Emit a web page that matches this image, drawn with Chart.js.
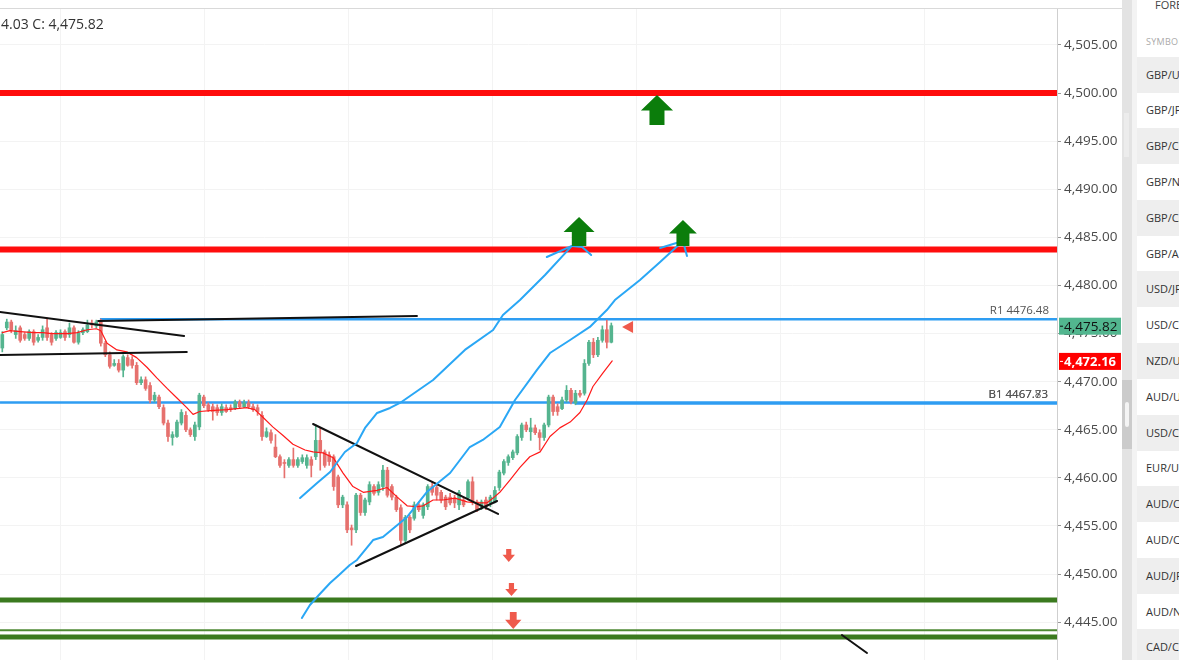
<!DOCTYPE html>
<html><head><meta charset="utf-8">
<script src="https://cdn.jsdelivr.net/npm/chart.js@4.4.0/dist/chart.umd.min.js"></script>
<style>
html,body{margin:0;padding:0;background:#fff;width:1179px;height:660px;overflow:hidden;font-family:"Open Sans",sans-serif;}
#topline{position:absolute;left:0;top:8px;width:1122px;height:1px;background:#d9d9d9;}
#wrap{position:absolute;left:0;top:9px;width:1122px;height:651px;}
#ohlc{position:absolute;left:1px;top:14px;font-size:14px;color:#333;white-space:nowrap;}
#track{position:absolute;left:1122px;top:0;width:10px;height:660px;background:#e3e3e3;}
#thumb{position:absolute;left:1122px;top:380px;width:10px;height:69px;background:#cbcbcb;}
#grip{position:absolute;left:1125px;top:402px;width:4px;height:25px;background:#f4f4f4;border-radius:2px;}
#lite{position:absolute;left:1124px;top:113px;width:5px;height:44px;background:#ececec;}
#gap{position:absolute;left:1132px;top:0;width:5px;height:660px;background:#f3f3f3;}
#panel{position:absolute;left:1137px;top:0;width:60px;height:660px;background:#fff;overflow:hidden;}
.row{position:absolute;left:0;width:60px;height:36px;font-size:11px;color:#333;line-height:36px;padding-left:9px;white-space:nowrap;}
.row.g{background:#eeeeee;}
#fore{position:absolute;left:18px;top:-3px;font-size:11px;color:#444;}
#sym{position:absolute;left:9px;top:35px;font-size:9px;color:#aaa;letter-spacing:0.3px;}
</style></head>
<body>
<div id="topline"></div>
<div id="wrap"><canvas id="c" width="1122" height="651"></canvas></div>
<div id="ohlc">4.03 C: 4,475.82</div>
<div id="track"></div><div id="lite"></div><div id="thumb"></div><div id="grip"></div>
<div id="gap"></div>
<div id="panel"><div id="fore">FOREX</div><div id="sym">SYMBOL</div></div>
<script>
// ---- candle data (index = candle number) ----
const opens = [
4473.5,4475.6,4476.2,4474.9,4475.6,4474.9,4474.5,4475.2,4474.3,4474.6,
4475.6,4474.9,4474.5,4474.6,4475.2,4474.9,4475.6,4474.1,4475.1,4475.2,
4476.1,4475.8,4476.2,4474.0,4472.8,4471.7,4471.9,4471.2,4472.5,4472.3,
4471.7,4469.9,4470.2,4469.6,4468.1,4468.4,4467.3,4465.7,4464.2,4464.3,
4465.7,4466.5,4465.0,4464.3,4465.3,4468.4,4467.6,4467.4,4467.3,4466.8,
4467.3,4467.3,4467.2,4467.9,4467.4,4467.8,4467.4,4467.3,4466.5,4464.3,
4464.7,4463.2,4462.2,4461.6,4461.3,4461.9,4461.3,4461.7,4461.3,4461.9,
4462.2,4463.9,4462.7,4462.4,4462.2,4460.1,4457.2,4457.2,4454.8,4454.6,
4458.2,4456.4,4457.5,4459.1,4458.5,4459.1,4460.8,4459.1,4458.0,4456.9,
4453.5,4455.9,4455.8,4457.2,4456.1,4457.0,4459.1,4459.0,4458.5,4458.0,
4458.0,4457.9,4457.2,4457.7,4457.9,4459.6,4457.5,4457.0,4457.7,4457.4,
4457.5,4459.0,4460.5,4461.6,4462.1,4462.6,4464.2,4465.5,4464.8,4465.2,
4464.7,4464.2,4465.5,4468.4,4467.4,4467.2,4468.1,4469.1,4467.8,4468.8,
4468.8,4471.9,4474.1,4472.8,4474.3,4475.4,4474.1];
const closes = [
4474.9,4476.2,4475.4,4475.3,4474.3,4474.5,4475.2,4474.1,4474.6,4475.4,
4474.6,4474.1,4475.1,4475.1,4474.6,4475.6,4474.1,4475.1,4475.4,4475.9,
4475.9,4476.2,4474.0,4472.8,4471.6,4471.9,4471.2,4472.6,4471.7,4471.7,
4469.9,4470.2,4469.3,4468.1,4468.6,4467.4,4465.7,4464.3,4464.5,4465.8,
4466.8,4465.0,4464.5,4465.5,4468.6,4467.5,4467.1,4466.9,4466.8,4467.4,
4466.9,4467.1,4467.9,4467.4,4467.8,4467.4,4467.1,4466.9,4464.3,4464.8,
4463.9,4462.2,4461.3,4461.5,4461.9,4461.3,4461.9,4462.1,4462.1,4461.3,
4463.9,4462.7,4461.3,4461.7,4459.1,4457.2,4458.0,4454.6,4454.6,4458.2,
4456.4,4457.7,4459.3,4458.4,4459.3,4460.8,4458.2,4458.0,4456.7,4453.5,
4455.9,4454.6,4457.2,4456.7,4457.2,4459.1,4458.5,4458.2,4457.7,4457.0,
4457.4,4457.4,4458.5,4457.2,4459.6,4457.5,4456.7,4457.5,4457.0,4458.0,
4458.7,4460.6,4461.7,4462.2,4462.7,4464.3,4465.5,4465.0,4465.2,4464.7,
4464.2,4465.5,4468.4,4466.9,4466.9,4468.1,4469.1,4467.9,4468.8,4468.6,
4471.9,4474.1,4472.8,4474.3,4475.4,4474.1,4475.82];
const highs = [
4475.2,4476.5,4476.4,4475.8,4475.8,4475.1,4475.4,4475.4,4474.9,4475.8,
4476.6,4475.1,4475.3,4475.4,4475.4,4476.1,4475.8,4475.3,4475.6,4476.4,
4476.4,4476.4,4476.5,4474.2,4473.1,4472.3,4472.3,4472.8,4472.8,4472.6,
4472.0,4470.5,4470.5,4469.9,4468.9,4468.6,4467.6,4466.0,4464.8,4466.0,
4467.1,4466.9,4465.2,4465.8,4468.8,4468.6,4467.8,4467.7,4467.6,4467.7,
4467.6,4467.6,4468.1,4468.1,4468.1,4468.1,4467.7,4467.6,4466.9,4465.2,
4465.0,4464.5,4462.4,4461.9,4462.1,4463.1,4462.1,4462.4,4462.4,4462.2,
4465.5,4465.2,4462.9,4462.7,4462.4,4460.3,4458.2,4457.5,4455.1,4458.4,
4458.4,4457.9,4459.6,4459.3,4459.6,4461.3,4461.1,4459.3,4458.2,4457.2,
4456.1,4456.1,4457.5,4457.5,4457.4,4459.3,4459.6,4459.3,4458.7,4458.2,
4458.4,4458.2,4458.7,4458.0,4459.8,4460.1,4457.7,4457.7,4458.0,4458.2,
4459.1,4460.8,4461.9,4462.4,4462.9,4464.5,4465.7,4465.8,4466.2,4465.5,
4465.0,4465.7,4468.6,4468.6,4467.7,4468.4,4469.6,4469.3,4469.1,4469.1,
4472.3,4474.3,4474.5,4474.6,4475.8,4476.4,4476.1];
const lows = [
4473.1,4475.4,4475.1,4474.5,4474.1,4474.3,4474.3,4473.8,4474.1,4474.3,
4474.3,4473.8,4474.3,4474.5,4474.3,4474.6,4474.0,4473.9,4474.9,4475.1,
4475.6,4475.6,4473.7,4472.6,4471.4,4471.6,4471.0,4470.5,4471.6,4471.4,
4469.7,4469.7,4469.1,4467.8,4467.9,4467.2,4465.5,4463.8,4463.4,4464.2,
4465.5,4464.8,4464.3,4463.9,4465.0,4467.3,4466.9,4466.0,4466.5,4466.5,
4466.8,4466.9,4467.1,4467.2,4467.3,4467.2,4466.9,4466.5,4463.9,4464.2,
4463.6,4462.1,4461.1,4460.0,4461.1,4461.1,4461.1,4461.5,4461.0,4460.1,
4461.9,4460.8,4461.1,4461.3,4458.7,4456.9,4456.9,4454.3,4453.0,4454.3,
4456.1,4456.1,4457.2,4458.2,4458.2,4458.7,4458.0,4457.7,4456.5,4453.0,
4453.2,4454.3,4455.6,4456.5,4455.8,4456.7,4458.2,4457.7,4457.4,4456.7,
4457.2,4456.9,4456.7,4457.0,4457.7,4457.2,4456.5,4456.7,4456.7,4457.0,
4457.4,4458.7,4460.3,4461.3,4461.9,4462.4,4463.9,4464.8,4463.9,4464.5,
4462.9,4463.9,4465.3,4466.5,4466.5,4467.1,4467.9,4467.7,4467.6,4468.4,
4468.6,4471.7,4472.5,4472.6,4474.1,4473.5,4474.03];

// ---- moving average ----
const maX = [0,1.7,4,7,9,11,14.5,16.7,19,21,22,23.4,25.6,27.8,30,32.3,34.5,36.8,39,41.2,42.6,44.1,46.4,50.2,54.6,56.4,58.2,60.4,62.7,64.9,67.6,69.4,71.6,73.9,76.1,78.3,80.6,83.7,85.9,88.2,90.4,92.6,94,96.2,98.4,101.1,103.8,106,108.2,109.6,111.1,113.4,115.6,117.8,120.1,122.3,124.5,126.8,129,130.6,131.9,134.1,136.2];
const maY = [4475.1,4475.3,4475.2,4475.1,4475.1,4475.0,4475.0,4475.1,4475.4,4475.5,4475.3,4474.0,4473.3,4473.1,4472.5,4471.5,4470.4,4469.3,4468.3,4467.3,4466.6,4466.9,4467.0,4467.1,4467.3,4467.1,4466.3,4465.3,4464.4,4463.5,4462.9,4462.7,4462.6,4462.1,4460.5,4459.1,4458.5,4458.7,4459.0,4458.0,4457.1,4457.0,4457.1,4457.7,4457.7,4457.9,4457.5,4457.4,4457.4,4457.9,4458.5,4459.8,4461.1,4462.2,4462.7,4464.3,4465.2,4465.8,4466.8,4468.1,4469.5,4470.9,4472.16];

// ---- hand-drawn channel lines ----
const upChanX = [66.5,70.3,73.2,76.5,79.2,81.0,83.7,86.6,88.8,96.2,103.3,109.6,111.8,115.6,121.2,127.2];
const upChanY = [4457.91,4459.47,4460.61,4462.69,4463.63,4465.19,4466.75,4467.27,4467.79,4470.18,4473.30,4475.37,4476.93,4478.49,4481.09,4484.11];
const upHookX = [121.6,127.2,129.5,131.5];
const upHookY = [4482.96,4484.11,4484.00,4483.17];
const loChanX = [66.9,68.7,70.7,73.2,75.2,77.6,79.2,82.8,85.0,90.4,94.8,100.0,104.4,107.3,111.1,114.5,119.4,122.3,126.8,131.2,135.0,136.8,142.4,146.9,152.0];
const loChanY = [4445.44,4446.79,4447.83,4449.07,4449.91,4450.95,4451.47,4453.54,4453.86,4455.94,4458.53,4460.51,4463.21,4463.94,4465.29,4468.10,4471.22,4472.98,4474.33,4475.69,4477.45,4478.49,4480.57,4482.44,4484.62];
const loHookX = [146.9,152.0,152.9];
const loHookY = [4483.90,4484.62,4483.07];

// ---- trend lines [x1,x2], [y1,y2] ----
const trendX = [[-0.51,40.6],[-0.51,41.2],[21.4,92.6],[69.4,110.7],[79.0,110.5],[187.5,193.1]];
const trendY = [[4477.25,4474.75],[4472.78,4473.09],[4476.31,4476.83],[4465.60,4456.25],[4450.84,4457.60],[4443.67,4441.80]];

// ---- levels ----
const resistanceLevels = [4500.00, 4483.75];
const pivotR1 = 4476.48, pivotR1Start = 21.8;
const pivotB1 = [4467.83, 4467.73], pivotB1Start = [-0.51, 127.9];
const supportLevels = [4447.31, 4443.45];
const supportThin = 4444.15;
const lastClose = 4475.82, lastMA = 4472.16;

// ---- markers ----
const upArrowX = [146.2, 128.8, 152.0];
const upArrowTop = [4499.80, 4487.12, 4486.81];
const upArrowBottom = [4496.68, 4484.11, 4484.11];
const downArrowX = [113.1, 113.7, 114.1];
const downArrowTop = [4452.61, 4449.07, 4446.06];
const downArrowBottom = [4451.26, 4447.72, 4444.29];
const flagX = 138.4, flagValue = 4475.69;

// ---- axes ----
const xMin = -0.514, xMax = 235.53;
const yMin = 4441.07, yMax = 4508.74;
const yTicks = [4445,4450,4455,4460,4465,4470,4475,4480,4485,4490,4495,4500,4505];
const xGrid = [12.885,45.045,77.205,109.365,141.525,173.685,205.845];
const symbols = ['GBP/USD','GBP/JPY','GBP/CHF','GBP/NZD','GBP/CAD','GBP/AUD','USD/JPY','USD/CHF','NZD/USD','AUD/USD','USD/CAD','EUR/USD','AUD/CAD','AUD/CHF','AUD/JPY','AUD/NZD','CAD/CHF'];

// sidebar
const panel = document.getElementById('panel');
symbols.forEach((s,k)=>{
  const d=document.createElement('div');
  d.className='row'+(k%2===0?' g':'');
  d.style.top=(56.5+k*35.8)+'px';
  d.textContent=s; panel.appendChild(d);
});

const GREEN='#55b48f', RED='#e6716e';
const fmt = v => v.toLocaleString('en-US',{minimumFractionDigits:2,maximumFractionDigits:2});
const up = opens.map((o,i)=>closes[i]>=o);

const hline = (v, x1, x2, color, w, order) => ({type:'line', data:[{x:x1,y:v},{x:x2,y:v}], borderColor:color, borderWidth:w, pointRadius:0, fill:false, order});
const path = (xs, ys, color, w, order) => ({type:'line', data:xs.map((x,i)=>({x, y:ys[i]})), borderColor:color, borderWidth:w, pointRadius:0, fill:false, tension:0, borderJoinStyle:'round', borderCapStyle:'round', order});

const datasets = [];
resistanceLevels.forEach(v=>datasets.push(hline(v,xMin,xMax,'#ff0d0d',6,20)));
supportLevels.forEach(v=>datasets.push(hline(v,xMin,xMax,'#3b7a1f',5,20)));
datasets.push(hline(supportThin,xMin,xMax,'#4f8a34',2,20));
datasets.push(hline(pivotR1,pivotR1Start,xMax,'#2e9df2',2.5,20));
pivotB1.forEach((v,k)=>datasets.push(hline(v,pivotB1Start[k],xMax,'#2e9df2',2.5,20)));
datasets.push({type:'bar', data:opens.map((o,i)=>({x:i,y:[lows[i],highs[i]]})), backgroundColor:up.map(u=>u?GREEN:RED), barThickness:1, grouped:false, borderWidth:0, order:12});
datasets.push({type:'bar', data:opens.map((o,i)=>({x:i,y:[o,closes[i]]})), backgroundColor:up.map(u=>u?GREEN:RED), barThickness:3, grouped:false, borderWidth:0, minBarLength:1, order:11});
datasets.push(path(maX,maY,'#ff1a1a',1.2,8));
trendX.forEach((xs,k)=>datasets.push(path(xs,trendY[k],'#111111',2,6)));
datasets.push(path(upChanX,upChanY,'#2aa7f5',2,5));
datasets.push(path(upHookX,upHookY,'#2aa7f5',2,5));
datasets.push(path(loChanX,loChanY,'#2aa7f5',2,5));
datasets.push(path(loHookX,loHookY,'#2aa7f5',2,5));

const overlay = {
  id:'overlay',
  afterDatasetsDraw(chart){
    const {ctx, scales:{x,y}, chartArea:a} = chart;
    ctx.save();
    ctx.fillStyle='#0b7d0b';
    upArrowX.forEach((ix,k)=>{
      const cx=x.getPixelForValue(ix), t=y.getPixelForValue(upArrowTop[k]), b=y.getPixelForValue(upArrowBottom[k]);
      const h=b-t, hw=h*0.535, hh=h*0.52, sw=h*0.25;
      ctx.beginPath(); ctx.moveTo(cx,t); ctx.lineTo(cx+hw,t+hh); ctx.lineTo(cx+sw,t+hh); ctx.lineTo(cx+sw,b);
      ctx.lineTo(cx-sw,b); ctx.lineTo(cx-sw,t+hh); ctx.lineTo(cx-hw,t+hh); ctx.closePath(); ctx.fill();
    });
    ctx.fillStyle='#ef5a4c';
    downArrowX.forEach((ix,k)=>{
      const cx=x.getPixelForValue(ix), t=y.getPixelForValue(downArrowTop[k]), b=y.getPixelForValue(downArrowBottom[k]);
      const h=b-t, hw=h*0.48, hh=h*0.55, sw=h*0.2;
      ctx.beginPath(); ctx.moveTo(cx-sw,t); ctx.lineTo(cx+sw,t); ctx.lineTo(cx+sw,b-hh); ctx.lineTo(cx+hw,b-hh);
      ctx.lineTo(cx,b); ctx.lineTo(cx-hw,b-hh); ctx.lineTo(cx-sw,b-hh); ctx.closePath(); ctx.fill();
    });
    const fx=x.getPixelForValue(flagX), fy=y.getPixelForValue(flagValue);
    ctx.beginPath(); ctx.moveTo(fx,fy); ctx.lineTo(fx+11,fy-6); ctx.lineTo(fx+11,fy+6); ctx.closePath(); ctx.fill();
    ctx.font='11.5px "Open Sans", sans-serif'; ctx.fillStyle='#555'; ctx.textAlign='right'; ctx.textBaseline='alphabetic';
    ctx.fillText('R1 '+pivotR1.toFixed(2), a.right-8, y.getPixelForValue(pivotR1)-5);
    pivotB1.forEach(v=>ctx.fillText('B1 '+v.toFixed(2), a.right-9, y.getPixelForValue(pivotB1[0])-5));
    ctx.restore();
  },
  afterDraw(chart){
    const {ctx, scales:{y}, chartArea:a} = chart;
    ctx.save();
    ctx.font='13.5px "Open Sans", sans-serif'; ctx.textAlign='left'; ctx.textBaseline='middle';
    const box=(v,bg,fg)=>{
      const py=y.getPixelForValue(v);
      ctx.fillStyle=bg; ctx.fillRect(a.right+2, py-8, 62, 17);
      ctx.fillStyle=fg; ctx.fillRect(a.right+3, py, 3, 1);
      ctx.fillText(fmt(v), a.right+7, py+1);
    };
    box(lastClose,'#52b68f','#111');
    ctx.font='bold 13px "Open Sans", sans-serif';
    box(lastMA,'#ff0000','#fff');
    ctx.restore();
  }
};

new Chart(document.getElementById('c'), {
  type:'bar',
  data:{datasets},
  options:{
    responsive:false, animation:false, devicePixelRatio:1,
    layout:{padding:0},
    plugins:{legend:{display:false}, tooltip:{enabled:false}},
    events:[],
    scales:{
      x:{type:'linear', min:xMin, max:xMax, offset:false,
         grid:{color:'#f3f3f3', drawTicks:false, offset:false}, border:{display:false},
         ticks:{display:false},
         afterBuildTicks:s=>{ s.ticks = xGrid.map(v=>({value:v})); },
         afterFit:s=>{ s.height=0; s.paddingLeft=0; s.paddingRight=0; }},
      y:{type:'linear', position:'right', min:yMin, max:yMax,
         grid:{color:'#f3f3f3', tickColor:'#999', tickLength:4}, border:{color:'#cfcfcf'},
         ticks:{padding:3, color:'#4a4a4a', font:{family:'"Open Sans", sans-serif', size:13.5}, callback:v=>fmt(v)},
         afterBuildTicks:s=>{ s.ticks = yTicks.map(v=>({value:v})); },
         afterFit:s=>{ s.width=65; s.paddingTop=0; s.paddingBottom=0; }}
    }
  },
  plugins:[overlay]
});
</script>
</body></html>
